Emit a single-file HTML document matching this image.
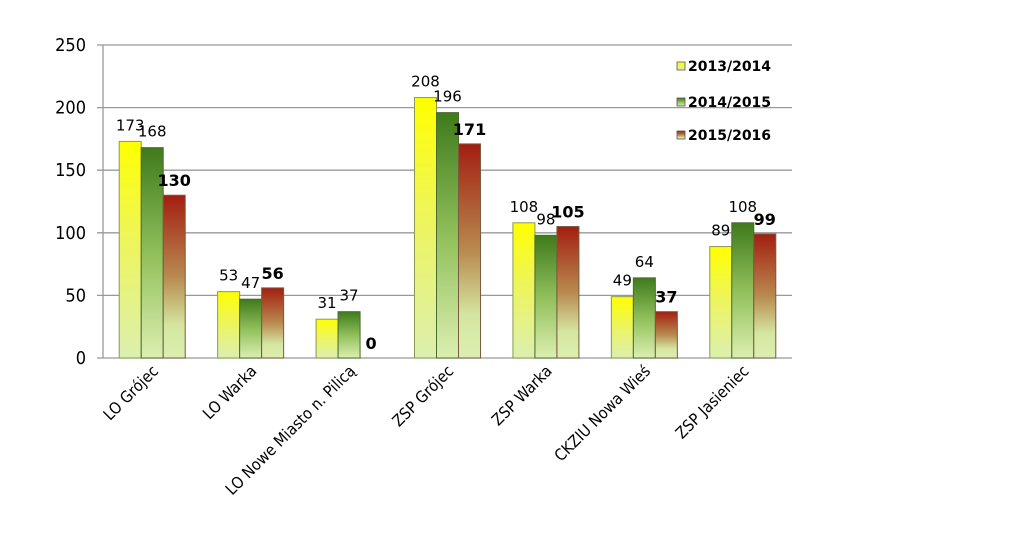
<!DOCTYPE html>
<html><head><meta charset="utf-8">
<style>
html,body{margin:0;padding:0;background:#fff;}
svg{display:block;font-family:"DejaVu Sans","Liberation Sans",sans-serif;}
</style></head>
<body>
<svg id="chart" width="1023" height="554" viewBox="0 0 1023 554">
<defs>
<linearGradient id="gY" x1="0" y1="0" x2="0" y2="1"><stop offset="0" stop-color="#ffff00"/><stop offset="0.45" stop-color="#eef55a"/><stop offset="1" stop-color="#dcefb0"/></linearGradient>
<linearGradient id="gG" x1="0" y1="0" x2="0" y2="1"><stop offset="0" stop-color="#3f7a1c"/><stop offset="0.5" stop-color="#8fbf5a"/><stop offset="1" stop-color="#dcefb0"/></linearGradient>
<linearGradient id="gR" x1="0" y1="0" x2="0" y2="1"><stop offset="0" stop-color="#a31e10"/><stop offset="0.5" stop-color="#b88a50"/><stop offset="0.8" stop-color="#d4e6a0"/><stop offset="1" stop-color="#dcefb0"/></linearGradient>
</defs>
<g id="grid"></g>
<g id="bars"></g>
<g id="labels"></g>
<g id="legend"></g>
</svg>
<script>
const categories = ["LO Grójec","LO Warka","LO Nowe Miasto n. Pilicą","ZSP Grójec","ZSP Warka","CKZIU Nowa Wieś","ZSP Jasieniec"];
const seriesNames = ["2013/2014","2014/2015","2015/2016"];
const s2013 = [173,53,31,208,108,49,89];
const s2014 = [168,47,37,196,98,64,108];
const s2015 = [130,56,0,171,105,37,99];
const yTicks = [0,50,100,150,200,250];

const NS="http://www.w3.org/2000/svg";
const X0=103,X1=792,Y0=358,Ytop=45,YMAX=250;
const y=v=>Y0-(v/YMAX)*(Y0-Ytop);
const band=(X1-X0)/categories.length;
const xc=i=>X0+band*(i+0.5);
const BW=22;
function mk(tag,attrs,parent){const e=document.createElementNS(NS,tag);for(const k in attrs)e.setAttribute(k,attrs[k]);parent.appendChild(e);return e;}
const grid=document.getElementById('grid'),bars=document.getElementById('bars'),labels=document.getElementById('labels'),legend=document.getElementById('legend');
const COND='"DejaVu Sans Condensed","DejaVu Sans",sans-serif';

yTicks.forEach(t=>{
  const l=mk('line',{x1:X0-6,x2:X1,y1:y(t),y2:y(t),stroke:'#999','stroke-width':1.3},grid);
  
  
  const tx=mk('text',{x:86,y:y(t)+6,'text-anchor':'end','font-size':18,'font-family':COND,fill:'#000'},grid);
  tx.textContent=t;
  
  
});
const ax=mk('line',{x1:X0,x2:X0,y1:Ytop,y2:Y0,stroke:'#999','stroke-width':1.3},grid);



const series=[s2013,s2014,s2015];
const fills=['url(#gY)','url(#gG)','url(#gR)'];
const strokes=['#8a9a50','#4a6a30','#7a5a40'];
categories.forEach((c,i)=>{
  const left=xc(i)-BW*1.5;
  series.forEach((s,j)=>{
    const v=s[i];
    const bx=left+j*BW;
    if(v>0){
      const r=mk('rect',{x:bx,y:y(v),width:BW,height:Y0-y(v),fill:fills[j],stroke:strokes[j],'stroke-width':1},bars);
      
      
    }
    let ly=y(v)-7, lx=bx+BW/2;
    if(j===0) ly-=4;
    if(j===1) ly-=4;
    if(j===2) ly-=2;
    const t=mk('text',{x:lx,y:ly,'text-anchor':'middle','font-size':j===2?16:15,'font-weight':j===2?'bold':'normal',fill:'#000'},labels);
    t.textContent=v;
    
    
  });
  const cx=xc(i)+7, cy=372;
  const ct=mk('text',{x:cx,y:cy,'text-anchor':'end','font-size':16,'font-family':COND,fill:'#000',transform:`rotate(-45 ${cx} ${cy})`},labels);
  ct.textContent=c;
  
  
});

const legY=[67,103,136];
seriesNames.forEach((n,j)=>{
  const r=mk('rect',{x:677,y:legY[j]-5,width:8,height:8,fill:fills[j],stroke:'#555','stroke-width':0.8},legend);
  
  
  const t=mk('text',{x:688,y:legY[j]+4,'font-size':14,'font-weight':'bold',fill:'#000'},legend);
  t.textContent=n;
  
  
});
</script>
</body></html>
